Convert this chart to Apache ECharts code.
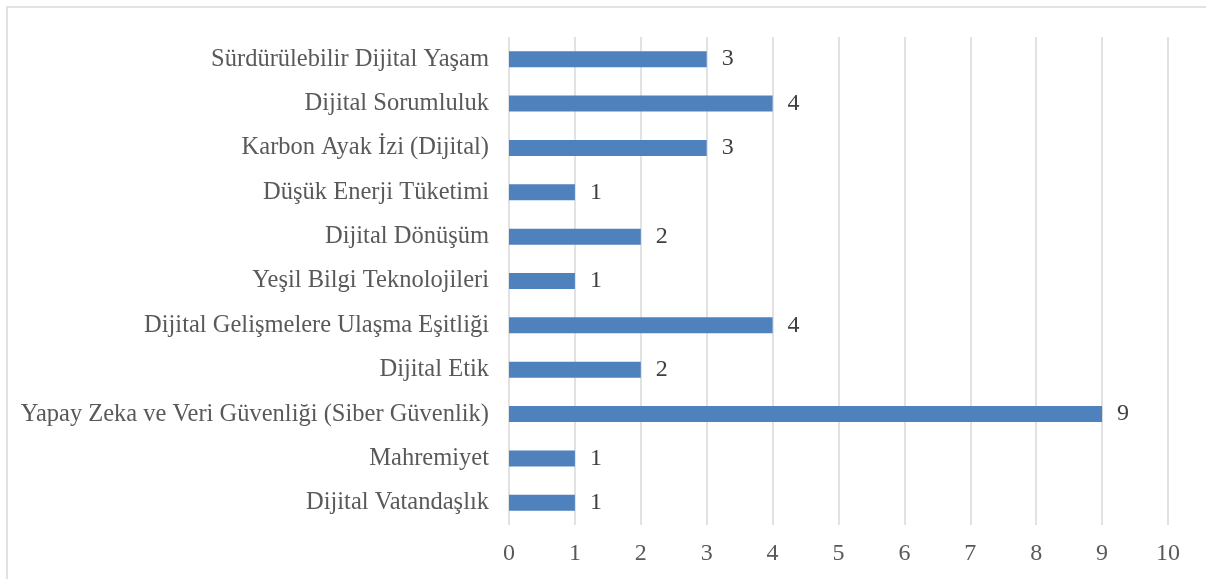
<!DOCTYPE html>
<html>
<head>
<meta charset="utf-8">
<script src="https://cdn.jsdelivr.net/npm/echarts@6/dist/echarts.min.js"></script>
<style>
  html, body { margin: 0; padding: 0; background: #fff; }
  #main { width: 1206px; height: 579px; }
</style>
</head>
<body>
<div id="main"></div>
<script>
var categories = [
    'Dijital Vatandaşlık',
    'Mahremiyet',
    'Yapay Zeka ve Veri Güvenliği (Siber Güvenlik)',
    'Dijital Etik',
    'Dijital Gelişmelere Ulaşma Eşitliği',
    'Yeşil Bilgi Teknolojileri',
    'Dijital Dönüşüm',
    'Düşük Enerji Tüketimi',
    'Karbon Ayak İzi (Dijital)',
    'Dijital Sorumluluk',
    'Sürdürülebilir Dijital Yaşam'
];
var values = [1, 1, 9, 2, 4, 1, 2, 1, 3, 4, 3];

var myChart = echarts.init(document.getElementById('main'));
var font = '"Liberation Serif", "Times New Roman", serif';

var option = {
    animation: false,
    textStyle: { fontFamily: font },
    graphic: [{
        type: 'rect',
        shape: { x: 7, y: 7, width: 1230, height: 620 },
        style: { fill: 'none', stroke: '#d9d9d9', lineWidth: 1.5 },
        silent: true
    }],
    grid: { left: 509, right: 38, top: 37, bottom: 54 },
    xAxis: {
        type: 'value',
        min: 0,
        max: 10,
        interval: 1,
        axisLine: { show: false },
        axisTick: { show: false },
        splitLine: { lineStyle: { color: '#d9d9d9', width: 1.5 } },
        axisLabel: { color: '#595959', fontSize: 24, fontFamily: font, margin: 17 }
    },
    yAxis: {
        type: 'category',
        data: categories,
        axisLine: { show: false },
        axisTick: { show: false },
        axisLabel: { color: '#595959', fontSize: 24.5, fontFamily: font, margin: 20 }
    },
    series: [{
        type: 'bar',
        data: values,
        barWidth: 16,
        itemStyle: { color: '#4f81bd' },
        label: {
            show: true,
            position: 'right',
            distance: 15,
            color: '#404040',
            fontSize: 24,
            fontFamily: font
        }
    }]
};

myChart.setOption(option);
</script>
</body>
</html>
